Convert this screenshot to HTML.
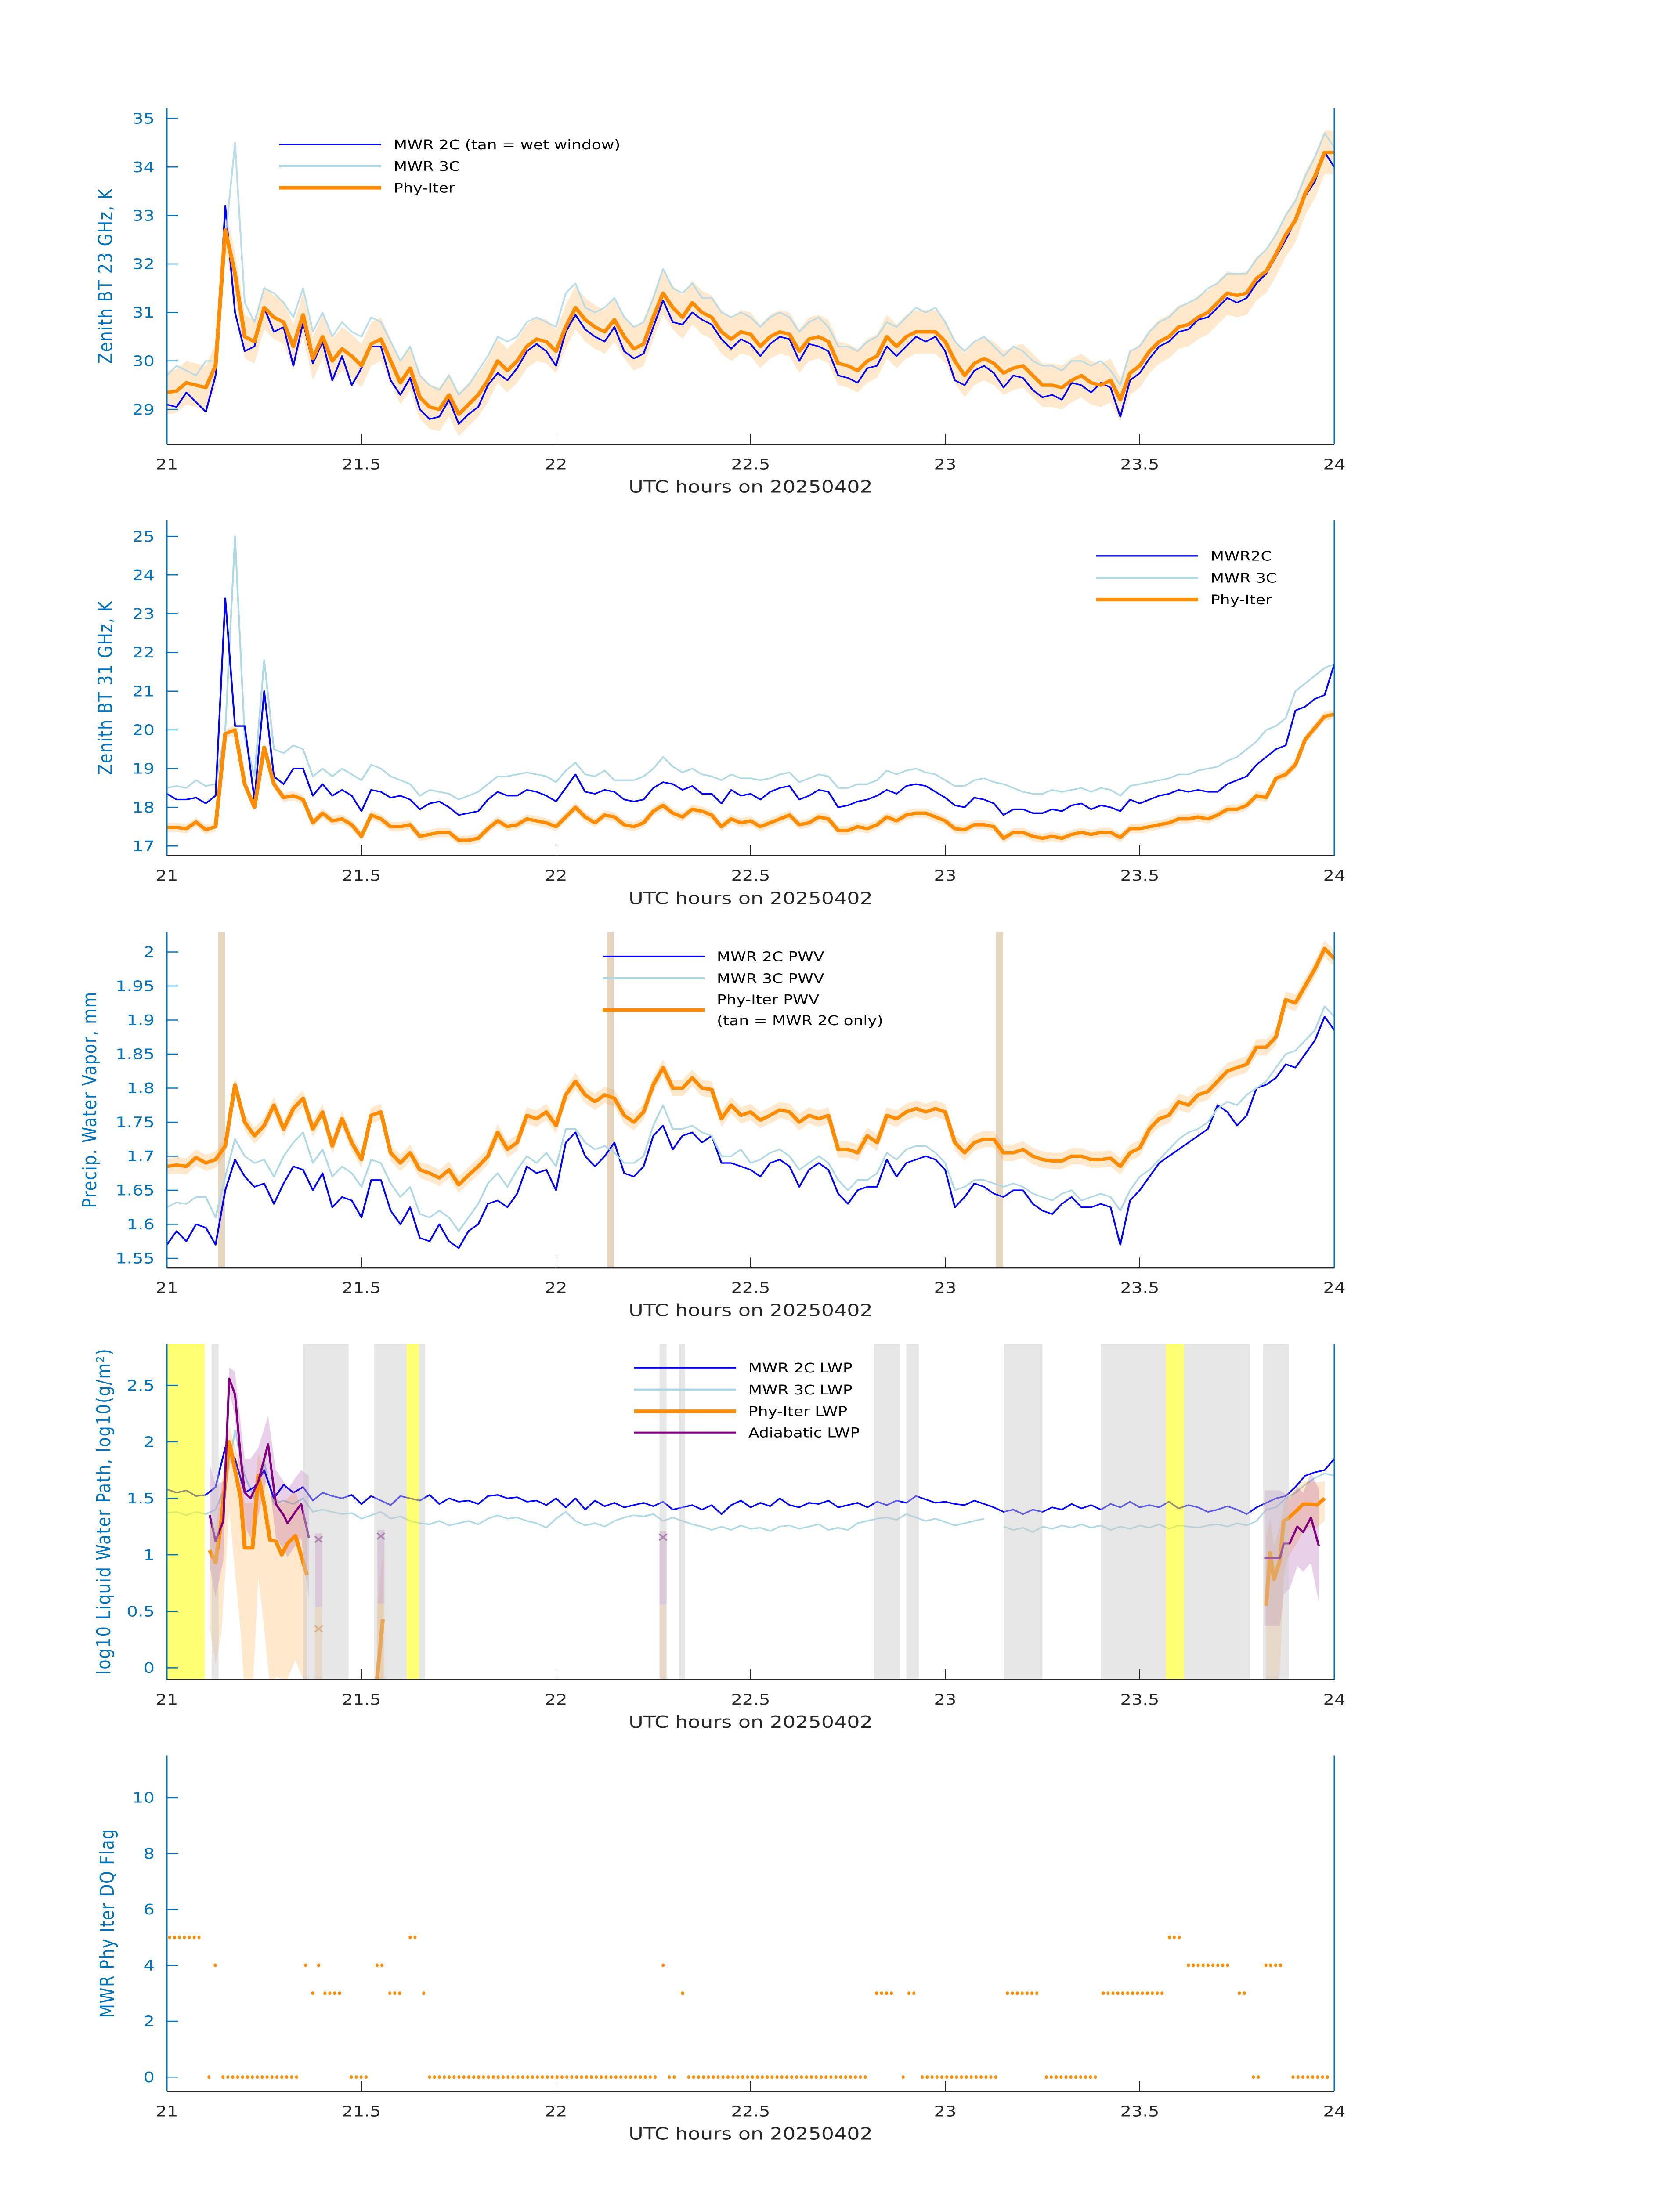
<!DOCTYPE html>
<html><head><meta charset="utf-8"><title>MWR retrievals 20250402</title>
<style>html,body{margin:0;padding:0;background:#fff;width:100%;height:100%;overflow:hidden}svg{display:block;position:absolute;left:0;top:0;width:100vw;height:100vh}</style></head>
<body>
<svg id="fig" xmlns="http://www.w3.org/2000/svg" viewBox="0 0 3825 6000" preserveAspectRatio="none" font-family="'DejaVu Sans','Liberation Sans',sans-serif">
<rect width="3825" height="6000" fill="#fff"/>
</svg>
<script>
// ---------- Panel 1: 23 GHz BT ----------
const bt23_2c=[29.1,29.05,29.35,29.15,28.95,29.7,33.2,31.0,30.2,30.3,31.1,30.6,30.7,29.9,30.8,29.95,30.4,29.6,30.1,29.5,29.85,30.3,30.3,29.6,29.3,29.65,29.0,28.8,28.85,29.2,28.7,28.9,29.05,29.5,29.75,29.6,29.85,30.2,30.35,30.2,29.9,30.6,30.95,30.65,30.5,30.4,30.7,30.2,30.05,30.15,30.7,31.25,30.8,30.75,31.0,30.85,30.75,30.45,30.25,30.45,30.35,30.1,30.35,30.5,30.45,30.0,30.35,30.3,30.2,29.7,29.65,29.55,29.85,29.9,30.3,30.1,30.3,30.5,30.4,30.5,30.2,29.6,29.5,29.8,29.9,29.75,29.45,29.7,29.65,29.4,29.25,29.3,29.2,29.55,29.5,29.35,29.55,29.45,28.85,29.6,29.75,30.05,30.3,30.4,30.6,30.65,30.85,30.9,31.1,31.3,31.2,31.3,31.6,31.8,32.15,32.5,32.9,33.4,33.7,34.3,34.0];
const bt23_3c=[29.7,29.9,29.8,29.7,30.0,30.0,32.5,34.5,31.2,30.8,31.5,31.4,31.2,30.9,31.5,30.6,31.0,30.5,30.8,30.6,30.5,30.9,30.8,30.4,30.0,30.3,29.7,29.5,29.4,29.7,29.3,29.5,29.8,30.1,30.5,30.4,30.5,30.8,30.9,30.8,30.7,31.4,31.6,31.1,31.0,31.1,31.3,30.9,30.7,30.8,31.3,31.9,31.5,31.4,31.6,31.3,31.3,31.0,30.9,31.0,30.9,30.7,30.9,31.0,30.9,30.6,30.8,30.9,30.7,30.3,30.3,30.2,30.4,30.5,30.8,30.7,30.9,31.1,31.0,31.1,30.8,30.4,30.2,30.4,30.5,30.3,30.1,30.3,30.2,30.0,29.9,29.9,29.8,30.0,30.0,29.9,30.0,29.8,29.5,30.2,30.3,30.6,30.8,30.9,31.1,31.2,31.3,31.5,31.6,31.8,31.8,31.8,32.1,32.3,32.6,33.0,33.3,33.8,34.2,34.7,34.4];
const bt23_phy=[29.35,29.38,29.55,29.5,29.45,29.9,32.7,31.8,30.5,30.4,31.1,30.9,30.8,30.3,30.95,30.05,30.5,30.0,30.25,30.1,29.9,30.35,30.45,30.0,29.55,29.85,29.25,29.05,29.0,29.3,28.9,29.1,29.3,29.6,30.0,29.8,30.0,30.3,30.45,30.4,30.2,30.7,31.1,30.85,30.7,30.6,30.85,30.5,30.25,30.35,30.9,31.4,31.1,30.9,31.2,31.0,30.9,30.6,30.45,30.6,30.55,30.3,30.5,30.6,30.55,30.2,30.45,30.5,30.4,29.95,29.9,29.8,30.0,30.1,30.5,30.3,30.5,30.6,30.6,30.6,30.4,30.0,29.7,29.95,30.05,29.95,29.75,29.85,29.9,29.7,29.5,29.5,29.45,29.6,29.7,29.55,29.5,29.6,29.2,29.75,29.9,30.2,30.4,30.5,30.7,30.75,30.9,31.0,31.2,31.4,31.35,31.4,31.7,31.85,32.2,32.6,32.9,33.45,33.8,34.3,34.3];
const bt23_unc=0.45;
const bt23_ticks=[29,30,31,32,33,34,35];
// ---------- Panel 2: 31 GHz BT ----------
const bt31_2c=[18.35,18.2,18.2,18.25,18.1,18.3,23.4,20.1,20.1,18.2,21.0,18.8,18.6,19.0,19.0,18.3,18.6,18.3,18.45,18.3,17.9,18.45,18.4,18.25,18.3,18.2,17.95,18.1,18.15,18.0,17.8,17.85,17.9,18.2,18.4,18.3,18.3,18.45,18.4,18.3,18.15,18.5,18.85,18.4,18.35,18.45,18.4,18.2,18.15,18.2,18.5,18.65,18.6,18.45,18.55,18.35,18.35,18.1,18.45,18.3,18.35,18.2,18.4,18.5,18.55,18.2,18.3,18.45,18.4,18.0,18.05,18.15,18.2,18.3,18.45,18.35,18.55,18.6,18.55,18.4,18.25,18.05,18.0,18.25,18.2,18.1,17.8,17.95,17.95,17.85,17.85,17.95,17.9,18.05,18.1,17.95,18.05,18.0,17.9,18.2,18.1,18.2,18.3,18.35,18.45,18.4,18.45,18.4,18.4,18.6,18.7,18.8,19.1,19.3,19.5,19.6,20.5,20.6,20.8,20.9,21.7];
const bt31_3c=[18.5,18.55,18.5,18.7,18.55,18.6,20.0,25.0,19.8,18.8,21.8,19.5,19.4,19.6,19.5,18.8,19.0,18.8,19.0,18.85,18.7,19.1,19.0,18.8,18.7,18.6,18.3,18.45,18.4,18.35,18.2,18.3,18.4,18.6,18.8,18.8,18.85,18.9,18.85,18.8,18.65,18.95,19.15,18.85,18.8,18.95,18.7,18.7,18.7,18.8,19.0,19.3,19.05,18.9,19.0,18.85,18.8,18.7,18.85,18.75,18.75,18.7,18.75,18.85,18.9,18.65,18.75,18.85,18.8,18.5,18.5,18.6,18.6,18.7,18.95,18.85,18.95,19.0,18.9,18.85,18.7,18.55,18.55,18.7,18.75,18.65,18.6,18.5,18.4,18.35,18.35,18.45,18.4,18.45,18.5,18.4,18.5,18.45,18.3,18.55,18.6,18.65,18.7,18.75,18.85,18.85,18.95,19.0,19.05,19.2,19.3,19.5,19.7,20.0,20.1,20.3,21.0,21.2,21.4,21.6,21.7];
const bt31_phy=[17.48,17.48,17.45,17.62,17.42,17.5,19.9,20.0,18.6,18.0,19.55,18.6,18.25,18.3,18.2,17.6,17.85,17.65,17.7,17.55,17.25,17.8,17.7,17.5,17.5,17.55,17.25,17.3,17.35,17.35,17.15,17.15,17.2,17.45,17.65,17.5,17.55,17.7,17.65,17.6,17.5,17.75,18.0,17.75,17.6,17.8,17.75,17.55,17.5,17.6,17.9,18.05,17.85,17.75,17.95,17.9,17.8,17.5,17.7,17.6,17.65,17.5,17.6,17.7,17.8,17.55,17.6,17.75,17.7,17.4,17.4,17.5,17.45,17.55,17.75,17.65,17.8,17.85,17.85,17.75,17.65,17.45,17.42,17.55,17.55,17.5,17.2,17.35,17.35,17.25,17.2,17.25,17.2,17.3,17.35,17.3,17.35,17.35,17.22,17.45,17.45,17.5,17.55,17.6,17.7,17.7,17.75,17.7,17.8,17.95,17.95,18.05,18.3,18.25,18.75,18.85,19.1,19.75,20.05,20.35,20.4];
const bt31_unc=0.12;
const bt31_ticks=[17,18,19,20,21,22,23,24,25];
// ---------- Panel 3: PWV ----------
const pwv_2c=[1.57,1.59,1.575,1.6,1.595,1.57,1.65,1.695,1.67,1.655,1.66,1.63,1.66,1.685,1.68,1.65,1.675,1.625,1.64,1.635,1.61,1.665,1.665,1.62,1.6,1.625,1.58,1.575,1.6,1.575,1.565,1.59,1.6,1.63,1.635,1.625,1.645,1.685,1.675,1.68,1.65,1.72,1.735,1.7,1.685,1.7,1.72,1.675,1.67,1.685,1.73,1.745,1.71,1.73,1.735,1.72,1.73,1.69,1.69,1.685,1.68,1.67,1.69,1.695,1.685,1.655,1.68,1.69,1.68,1.645,1.63,1.65,1.655,1.655,1.695,1.67,1.69,1.695,1.7,1.695,1.68,1.625,1.64,1.66,1.655,1.645,1.64,1.65,1.65,1.63,1.62,1.615,1.63,1.64,1.625,1.625,1.63,1.625,1.57,1.635,1.65,1.67,1.69,1.7,1.71,1.72,1.73,1.74,1.775,1.765,1.745,1.76,1.8,1.805,1.815,1.835,1.83,1.85,1.87,1.905,1.885];
const pwv_3c=[1.625,1.632,1.63,1.64,1.64,1.61,1.67,1.725,1.7,1.69,1.695,1.67,1.7,1.72,1.735,1.69,1.71,1.67,1.685,1.675,1.655,1.695,1.69,1.66,1.64,1.655,1.615,1.61,1.62,1.61,1.59,1.61,1.63,1.66,1.675,1.655,1.68,1.7,1.69,1.705,1.685,1.74,1.74,1.72,1.71,1.715,1.705,1.69,1.69,1.7,1.745,1.775,1.74,1.74,1.745,1.735,1.73,1.7,1.7,1.71,1.69,1.695,1.705,1.71,1.7,1.68,1.69,1.7,1.69,1.665,1.65,1.665,1.665,1.675,1.705,1.695,1.71,1.715,1.715,1.705,1.69,1.65,1.655,1.665,1.665,1.66,1.655,1.66,1.655,1.645,1.64,1.635,1.645,1.65,1.635,1.64,1.645,1.64,1.62,1.65,1.67,1.68,1.695,1.71,1.725,1.735,1.74,1.75,1.77,1.78,1.775,1.79,1.8,1.81,1.83,1.85,1.855,1.87,1.885,1.92,1.905];
const pwv_phy=[1.685,1.687,1.685,1.698,1.69,1.695,1.715,1.805,1.75,1.73,1.745,1.775,1.74,1.77,1.785,1.74,1.765,1.715,1.755,1.72,1.695,1.76,1.765,1.705,1.69,1.705,1.68,1.675,1.668,1.68,1.658,1.672,1.685,1.7,1.735,1.71,1.72,1.76,1.755,1.765,1.745,1.79,1.81,1.79,1.78,1.79,1.785,1.76,1.75,1.765,1.805,1.83,1.8,1.8,1.815,1.8,1.798,1.755,1.775,1.76,1.765,1.753,1.76,1.768,1.765,1.75,1.76,1.755,1.76,1.71,1.71,1.705,1.73,1.72,1.76,1.755,1.765,1.77,1.765,1.77,1.765,1.72,1.705,1.72,1.725,1.725,1.705,1.705,1.71,1.7,1.695,1.693,1.693,1.7,1.7,1.695,1.695,1.697,1.685,1.705,1.712,1.74,1.755,1.76,1.78,1.775,1.79,1.795,1.81,1.825,1.83,1.835,1.86,1.86,1.875,1.93,1.925,1.95,1.975,2.005,1.99];
const pwv_unc=0.012;
const pwv_wetTimes=[21.14,22.14,23.14];
const pwv_ticks=[1.55,1.6,1.65,1.7,1.75,1.8,1.85,1.9,1.95,2];
// ---------- Panel 4: LWP ----------
const lwp_2c=[1.58,1.55,1.57,1.52,1.53,1.6,1.95,1.85,1.55,1.6,1.75,1.5,1.62,1.55,1.6,1.48,1.55,1.52,1.5,1.53,1.45,1.52,1.48,1.44,1.52,1.5,1.48,1.53,1.45,1.5,1.47,1.48,1.45,1.52,1.53,1.5,1.51,1.47,1.48,1.44,1.5,1.42,1.5,1.4,1.48,1.43,1.46,1.42,1.44,1.46,1.43,1.47,1.4,1.42,1.44,1.4,1.44,1.36,1.44,1.48,1.42,1.46,1.43,1.5,1.44,1.42,1.46,1.45,1.48,1.42,1.44,1.46,1.42,1.47,1.44,1.48,1.46,1.52,1.49,1.46,1.47,1.45,1.44,1.48,1.45,1.42,1.38,1.4,1.36,1.4,1.38,1.42,1.4,1.45,1.41,1.44,1.4,1.45,1.42,1.47,1.42,1.44,1.42,1.47,1.41,1.44,1.42,1.38,1.4,1.43,1.4,1.36,1.42,1.46,1.5,1.52,1.6,1.7,1.73,1.75,1.85];
const lwp_3c=[1.37,1.38,1.35,1.38,1.36,1.4,1.6,2.1,1.7,1.5,1.82,1.45,1.48,1.45,1.5,1.38,1.4,1.38,1.36,1.37,1.32,1.35,1.38,1.32,1.34,1.3,1.28,1.27,1.3,1.26,1.28,1.3,1.27,1.32,1.35,1.32,1.33,1.3,1.28,1.24,1.32,1.38,1.3,1.26,1.28,1.25,1.3,1.33,1.35,1.34,1.36,1.3,1.33,1.3,1.27,1.25,1.22,1.25,1.22,1.26,1.23,1.24,1.21,1.25,1.26,1.23,1.25,1.27,1.22,1.24,1.22,1.28,1.3,1.32,1.33,1.31,1.36,1.33,1.3,1.32,1.29,1.26,1.28,1.3,1.32,null,1.25,1.22,1.24,1.2,1.25,1.23,1.26,1.24,1.27,1.24,1.26,1.22,1.25,1.23,1.26,1.24,1.27,1.23,1.26,1.25,1.24,1.26,1.27,1.25,1.28,1.26,1.3,1.4,1.42,1.5,1.55,1.62,1.68,1.72,1.7];
const lwp_phyT=[21.11,21.125,21.14,21.16,21.175,21.19,21.2,21.22,21.235,21.25,21.265,21.28,21.295,21.31,21.33,21.36,null,21.54,21.555,null,23.825,23.835,23.845,23.86,23.87,23.88,23.9,23.92,23.94,23.955,23.975];
const lwp_phyV=[1.04,0.93,1.3,2.0,1.75,1.5,1.06,1.06,1.7,1.45,1.13,1.12,1.0,1.1,1.17,0.82,null,-0.1,0.43,null,0.55,1.02,0.78,0.95,1.3,1.32,1.38,1.45,1.45,1.44,1.5];
const lwp_phyErrUp=[0.3,0.3,0.3,0.15,0.2,0.3,0.4,0.4,0.2,0.3,0.4,0.4,0.45,0.4,0.4,0.4,null,0.6,0.6,null,0.6,0.3,0.3,0.3,0.15,0.2,0.2,0.2,0.2,0.2,0.15];
const lwp_phyErrLo=[0.7,0.9,1.0,0.6,0.9,1.2,1.3,1.3,0.9,1.1,1.3,1.2,1.1,1.2,1.1,1.0,null,0.6,0.6,null,0.8,1.1,1.0,1.0,0.5,0.35,0.3,0.25,0.2,0.2,0.2];
const lwp_adiT=[21.11,21.125,21.145,21.16,21.175,21.19,21.2,21.215,21.235,21.26,21.28,21.3,21.31,21.33,21.345,21.365,null,23.82,23.86,23.87,23.885,23.905,23.92,23.94,23.96];
const lwp_adiV=[1.35,1.12,1.3,2.56,2.42,1.85,1.55,1.5,1.65,1.98,1.45,1.35,1.28,1.38,1.45,1.15,null,0.97,0.97,1.1,1.1,1.25,1.2,1.33,1.08];
const lwp_adiErr=[0.45,0.5,0.35,0.1,0.2,0.3,0.3,0.35,0.3,0.25,0.3,0.3,0.3,0.3,0.3,0.55,null,0.6,0.6,0.45,0.4,0.35,0.35,0.4,0.5];
const lwp_singleT=[21.39,21.55,22.275];
const lwp_singleAdi=[1.14,1.17,1.16];
const lwp_singlePhy=[0.35,null,null];
const lwp_grayStart=[21.115,21.35,21.533,21.648,22.266,22.316,22.817,22.9,23.151,23.4,23.614,23.817];
const lwp_grayEnd=[21.133,21.467,21.616,21.664,22.284,22.332,22.883,22.932,23.25,23.567,23.783,23.883];
const lwp_yellowStart=[21.0,21.616,23.567];
const lwp_yellowEnd=[21.097,21.648,23.614];
const lwp_ticks=[0,0.5,1,1.5,2,2.5];
// ---------- Panel 5: DQ flag runs ----------
const dq_runStart=[21.007,21.625,23.576,21.124,21.357,21.39,21.54,22.275,23.625,23.824,21.375,21.406,21.573,21.66,22.325,22.824,22.907,23.16,23.406,23.756,21.108,21.144,21.474,21.675,22.291,22.341,22.892,22.941,23.26,23.792,23.894];
const dq_runCount=[7,2,3,1,1,1,2,1,9,4,1,4,3,1,1,4,2,7,13,2,1,16,4,47,2,37,1,16,11,2,8];
const dq_runFlag=[5,5,5,4,4,4,4,4,4,4,3,3,3,3,3,3,3,3,3,3,0,0,0,0,0,0,0,0,0,0,0];
const dq_spacing=0.0126;
const dq_ticks=[0,2,4,6,8,10];
const xTicks=[21,21.5,22,22.5,23,23.5,24];

const NS='http://www.w3.org/2000/svg';
const svg=document.getElementById('fig');
function el(tag,attrs,parent){const e=document.createElementNS(NS,tag);for(const k in attrs)e.setAttribute(k,attrs[k]);(parent||svg).appendChild(e);return e;}
const X0=380,X1=3038;
function sx(t){return X0+(t-21)/3*(X1-X0);}
function makePanel(id,top,bottom,ymin,ymax){
  const sy=v=>bottom-(v-ymin)/(ymax-ymin)*(bottom-top);
  const g=el('g',{});
  
  
  const cp=el('clipPath',{id:'clip-'+id},g);
  el('rect',{x:X0,y:top,width:X1-X0,height:bottom-top},cp);
  const plot=el('g',{'clip-path':'url(#clip-'+id+')'},g);
  
  
  return {sy,g,plot,top,bottom};
}
function seriesPath(arr,sy){let d='',pen=false;const n=arr.length;for(let i=0;i<n;i++){const v=arr[i];if(v===null){pen=false;continue;}const x=sx(21+3*i/(n-1)),y=sy(v);d+=(pen?'L':'M')+x.toFixed(1)+' '+y.toFixed(1);pen=true;}return d;}
function xyPath(ts,vs,sy){let d='',pen=false;for(let i=0;i<ts.length;i++){if(ts[i]===null||vs[i]===null){pen=false;continue;}d+=(pen?'L':'M')+sx(ts[i]).toFixed(1)+' '+sy(vs[i]).toFixed(1);pen=true;}return d;}
function bandPath(arr,unc,sy){const n=arr.length;let up='',lo='';for(let i=0;i<n;i++){const x=sx(21+3*i/(n-1));up+=(i?'L':'M')+x.toFixed(1)+' '+sy(arr[i]+unc).toFixed(1);}for(let i=n-1;i>=0;i--){const x=sx(21+3*i/(n-1));lo+='L'+x.toFixed(1)+' '+sy(arr[i]-unc).toFixed(1);}return up+lo+'Z';}
function xyBand(ts,vs,eu,el_,sy){const segs=[];let cur=[];for(let i=0;i<ts.length;i++){if(ts[i]===null){if(cur.length)segs.push(cur);cur=[];continue;}cur.push(i);}if(cur.length)segs.push(cur);let d='';segs.forEach(s=>{s.forEach((i,k)=>{d+=(k?'L':'M')+sx(ts[i]).toFixed(1)+' '+sy(vs[i]+eu[i]).toFixed(1);});for(let k=s.length-1;k>=0;k--){const i=s[k];d+='L'+sx(ts[i]).toFixed(1)+' '+sy(vs[i]-el_[i]).toFixed(1);}d+='Z';});return d;}
function axes(P,ticks,fmt,ylabel,ylabelX,ylabelLen){
  const g=P.g;
  ticks.forEach(v=>{const y=P.sy(v);
    const tk=el('line',{x1:X0,x2:X0+26,y1:y,y2:y,stroke:'#0072BD','stroke-width':3},g);
    
    
    const tl=el('text',{x:352,y:y+14,'text-anchor':'end','font-size':40,fill:'#0072BD'},g);
    tl.textContent=fmt(v);
    
    
  });
  xTicks.forEach(t=>{const x=sx(t);
    const tk=el('line',{x1:x,x2:x,y1:P.bottom,y2:P.bottom-28,stroke:'#262626','stroke-width':2},g);
    
    
    const tl=el('text',{x:x,y:P.bottom+68,'text-anchor':'middle','font-size':40,fill:'#262626'},g);
    tl.textContent=String(t);
    
    
  });
  const la=el('line',{x1:X0,x2:X0,y1:P.top,y2:P.bottom,stroke:'#0072BD','stroke-width':3},g);
  
  
  const ra=el('line',{x1:X1,x2:X1,y1:P.top,y2:P.bottom,stroke:'#0072BD','stroke-width':3},g);
  
  
  const ba=el('line',{x1:X0,x2:X1,y1:P.bottom,y2:P.bottom,stroke:'#262626','stroke-width':4},g);
  
  
  const xl=el('text',{x:(X0+X1)/2,y:P.bottom+132,'text-anchor':'middle','font-size':46,fill:'#262626'},g);
  xl.textContent='UTC hours on 20250402';
  
  
  const cy=(P.top+P.bottom)/2;
  const yl=el('text',{x:0,y:0,'text-anchor':'middle','font-size':44,fill:'#0072BD',transform:'translate('+(ylabelX+15)+','+cy+') rotate(-90)',textLength:ylabelLen,lengthAdjust:'spacing'},g);
  yl.textContent=ylabel;
  
  
}
function legend(g,x,rows){
  rows.forEach(r=>{
    if(r.color){const l=el('line',{x1:x,x2:x+232,y1:r.y,y2:r.y,stroke:r.color,'stroke-width':r.w},g);
      
      }
    (r.text||[]).forEach((t,k)=>{const tx=el('text',{x:x+260,y:r.ty[k]+13,'font-size':36,fill:'#000'},g);tx.textContent=t;
      
      });
  });
}
function drawLine(plot,d,color,w,name){const p=el('path',{d:d,fill:'none',stroke:color,'stroke-width':w,'stroke-linejoin':'round'},plot);
  
  return p;}
function drawBand(plot,d,color,op,name){const p=el('path',{d:d,fill:color,'fill-opacity':op,stroke:'none'},plot);
  
  return p;}

// Panel 1
{const P=makePanel('panel-bt23',296,1214,28.28,35.21);
 drawBand(P.plot,bandPath(bt23_phy,bt23_unc,P.sy),'#ff8c00',0.2,'phy-iter-uncertainty-band');
 drawLine(P.plot,seriesPath(bt23_2c,P.sy),'#0000ff',4,'mwr-2c-line');
 drawLine(P.plot,seriesPath(bt23_3c,P.sy),'#add8e6',4,'mwr-3c-line').setAttribute('stroke-opacity','0.85');
 drawLine(P.plot,seriesPath(bt23_phy,P.sy),'#ff8c00',9,'phy-iter-line');
 axes(P,bt23_ticks,v=>String(v),'Zenith BT 23 GHz, K',240,478);
 legend(P.g,636,[{y:395,color:'#0000ff',w:4,text:['MWR 2C (tan = wet window)'],ty:[395]},{y:454,color:'#add8e6',w:6,text:['MWR 3C'],ty:[454]},{y:513,color:'#ff8c00',w:10,text:['Phy-Iter'],ty:[513]}]);}
// Panel 2
{const P=makePanel('panel-bt31',1422,2338,16.75,25.41);
 drawBand(P.plot,bandPath(bt31_phy,bt31_unc,P.sy),'#ff8c00',0.2,'phy-iter-uncertainty-band');
 drawLine(P.plot,seriesPath(bt31_3c,P.sy),'#add8e6',4,'mwr-3c-line');
 drawLine(P.plot,seriesPath(bt31_2c,P.sy),'#0000ff',4,'mwr-2c-line');
 drawLine(P.plot,seriesPath(bt31_phy,P.sy),'#ff8c00',9,'phy-iter-line');
 axes(P,bt31_ticks,v=>String(v),'Zenith BT 31 GHz, K',240,475);
 legend(P.g,2496,[{y:1519,color:'#0000ff',w:4,text:['MWR2C'],ty:[1519]},{y:1579,color:'#add8e6',w:6,text:['MWR 3C'],ty:[1579]},{y:1638,color:'#ff8c00',w:10,text:['Phy-Iter'],ty:[1638]}]);}
// Panel 3
{const P=makePanel('panel-pwv',2547,3464,1.536,2.029);
 pwv_wetTimes.forEach(t=>{const r=el('rect',{x:sx(t)-8,y:P.top,width:16,height:P.bottom-P.top,fill:'#d2b48c','fill-opacity':0.55},P.plot);
   
   });
 drawBand(P.plot,bandPath(pwv_phy,pwv_unc,P.sy),'#ff8c00',0.2,'phy-iter-uncertainty-band');
 drawLine(P.plot,seriesPath(pwv_2c,P.sy),'#0000ff',4,'mwr-2c-pwv-line');
 drawLine(P.plot,seriesPath(pwv_3c,P.sy),'#add8e6',4,'mwr-3c-pwv-line');
 drawLine(P.plot,seriesPath(pwv_phy,P.sy),'#ff8c00',9,'phy-iter-pwv-line');
 axes(P,pwv_ticks,v=>String(v),'Precip. Water Vapor, mm',204,590);
 legend(P.g,1372,[{y:2613,color:'#0000ff',w:4,text:['MWR 2C PWV'],ty:[2613]},{y:2673,color:'#add8e6',w:6,text:['MWR 3C PWV'],ty:[2673]},{y:2760,color:'#ff8c00',w:10,text:['Phy-Iter PWV','(tan = MWR 2C only)'],ty:[2731,2788]}]);}
// Panel 4
{const P=makePanel('panel-lwp',3672,4589,-0.104,2.866);
 drawLine(P.plot,seriesPath(lwp_3c,P.sy),'#add8e6',4,'mwr-3c-lwp-line');
 drawLine(P.plot,seriesPath(lwp_2c,P.sy),'#0000ff',4,'mwr-2c-lwp-line');
 drawBand(P.plot,xyBand(lwp_phyT,lwp_phyV,lwp_phyErrUp,lwp_phyErrLo,P.sy),'#ff8c00',0.2,'phy-iter-lwp-band');
 drawBand(P.plot,xyBand(lwp_adiT,lwp_adiV,lwp_adiErr,lwp_adiErr,P.sy),'#800080',0.18,'adiabatic-lwp-band');
 lwp_singleT.forEach((t,i)=>{const x=sx(t);const a=lwp_singleAdi[i];
   const r1=el('rect',{x:x-8,y:P.sy(a+0.05),width:16,height:P.sy(a-0.6)-P.sy(a+0.05),fill:'#800080','fill-opacity':0.2},P.plot);
   
   
   const r2=el('rect',{x:x-8,y:P.sy(a-0.6),width:16,height:P.bottom-P.sy(a-0.6),fill:'#ff8c00','fill-opacity':0.2},P.plot);
   
   
   const m=el('text',{x:x,y:P.sy(a)+12,'text-anchor':'middle','font-size':34,'font-weight':'bold',fill:'#9b4f9b'},P.plot);m.textContent='×';
   
   
   if(lwp_singlePhy[i]!==null){const m2=el('text',{x:x,y:P.sy(lwp_singlePhy[i])+12,'text-anchor':'middle','font-size':34,'font-weight':'bold',fill:'#f0a050'},P.plot);m2.textContent='×';
     
     }
 });
 drawLine(P.plot,xyPath(lwp_phyT,lwp_phyV,P.sy),'#ff8c00',9,'phy-iter-lwp-line');
 drawLine(P.plot,xyPath(lwp_adiT,lwp_adiV,P.sy),'#800080',5,'adiabatic-lwp-line');
 lwp_grayStart.forEach((s,i)=>{const r=el('rect',{x:sx(s),y:P.top,width:sx(lwp_grayEnd[i])-sx(s),height:P.bottom-P.top,fill:'#c8c8c8','fill-opacity':0.45},P.plot);
   
   });
 lwp_yellowStart.forEach((s,i)=>{const r=el('rect',{x:sx(s),y:P.top,width:sx(lwp_yellowEnd[i])-sx(s),height:P.bottom-P.top,fill:'#ffff00','fill-opacity':0.55},P.plot);
   
   });
 axes(P,lwp_ticks,v=>String(v),'log10 Liquid Water Path, log10(g/m\u00B2)',236,890);
 legend(P.g,1444,[{y:3737,color:'#0000ff',w:4,text:['MWR 2C LWP'],ty:[3737]},{y:3797,color:'#add8e6',w:6,text:['MWR 3C LWP'],ty:[3797]},{y:3856,color:'#ff8c00',w:10,text:['Phy-Iter LWP'],ty:[3856]},{y:3914,color:'#800080',w:5,text:['Adiabatic LWP'],ty:[3914]}]);}
// Panel 5
{const P=makePanel('panel-dq',4797,5714,-0.51,11.5);
 dq_runStart.forEach((s,i)=>{for(let k=0;k<dq_runCount[i];k++){const t=s+k*dq_spacing;
   const c=el('ellipse',{cx:sx(t),cy:P.sy(dq_runFlag[i]),rx:3.5,ry:5,fill:'#ff8c00'},P.plot);
   
   }});
 axes(P,dq_ticks,v=>String(v),'MWR Phy Iter DQ Flag',244,516);}
</script>
</body></html>
